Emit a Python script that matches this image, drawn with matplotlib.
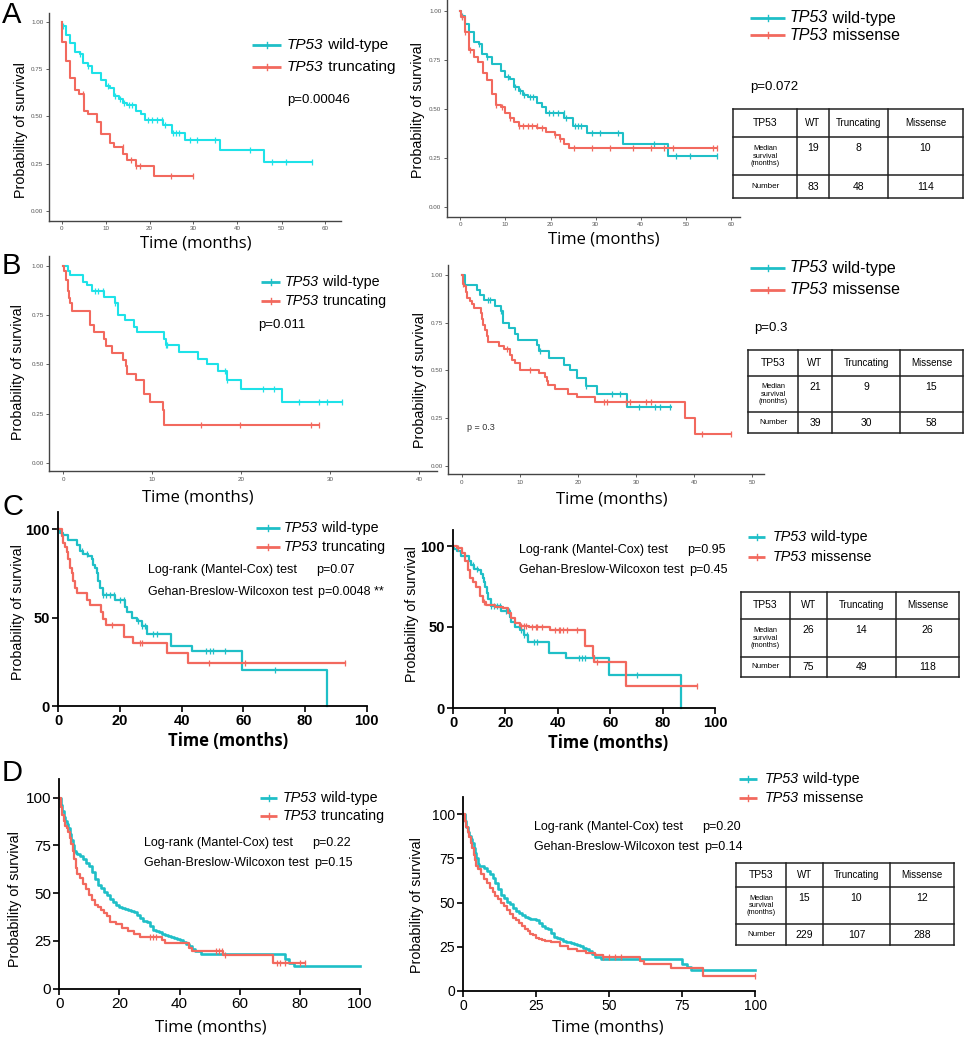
import numpy as np
import matplotlib
matplotlib.use("Agg")
import matplotlib.pyplot as plt

plt.rcParams['font.family'] = ['Liberation Sans', 'DejaVu Sans']

# ---------------- DATA ----------------
# Panel A (survival as fraction)
wtA_t = [0, 0.2, 1.1, 2, 3, 4.2, 4.9, 6, 7, 9, 10, 11, 12, 13, 14, 15, 17, 18, 19, 23, 25, 28, 36, 46, 57]
wtA_s = [1.0, 0.975, 0.93, 0.89, 0.84, 0.83, 0.78, 0.765, 0.73, 0.69, 0.66, 0.65, 0.61, 0.59, 0.57, 0.56,
         0.53, 0.51, 0.48, 0.455, 0.41, 0.375, 0.32, 0.26, 0.26]
wtA_cens = [0.3, 4.2, 6, 10.6, 12.1, 13.3, 14.2, 15.4, 16.1, 19.7, 20.6, 21.6, 22.9, 23.5, 25.4, 26,
            26.8, 29.2, 30.9, 35, 42.9, 47.9, 51, 57]
truncA_t = [0, 0.05, 1, 2, 3, 4, 5, 6, 8, 9, 11, 12, 14, 15, 17, 21, 30]
truncA_s = [1.0, 0.895, 0.79, 0.70, 0.64, 0.62, 0.53, 0.51, 0.47, 0.405, 0.36, 0.34, 0.30, 0.27, 0.24, 0.185, 0.185]
truncA_cens = [4.8, 13.9, 15.9, 17, 17.8, 24.8, 30]
missA_t = [0, 0.05, 1, 2, 3, 4, 5, 6, 7, 8, 9, 10, 11, 12, 13, 17, 19, 21, 22, 23, 24, 57]
missA_s = [1.0, 0.97, 0.89, 0.80, 0.765, 0.74, 0.68, 0.645, 0.575, 0.52, 0.51, 0.48, 0.45, 0.43, 0.41,
           0.40, 0.38, 0.365, 0.345, 0.32, 0.30, 0.30]
missA_cens = [0.3, 1, 2.1, 8, 9.2, 11, 13, 14, 14.9, 15.8, 16.9, 18, 21, 22.1, 25.1, 29.1, 33.2, 38.2,
              42.2, 45.2, 47.1, 56.1, 57]

# Panel B
wtB1_t = [0, 0.56, 0.75, 2.2, 2.7, 3.2, 4.6, 5.8, 6.1, 6.9, 7.9, 8.3, 11.3, 11.5, 13, 15.2, 16.2, 17.4,
          18.4, 20, 24.6, 31.3]
wtB1_s = [1.0, 0.975, 0.953, 0.92, 0.90, 0.87, 0.84, 0.81, 0.75, 0.725, 0.69, 0.665, 0.63, 0.60, 0.565,
          0.53, 0.50, 0.465, 0.42, 0.375, 0.31, 0.31]
wtB1_cens = [3.6, 3.9, 4.5, 5.8, 11.5, 11.7, 18.2, 18.4, 22.5, 23.7, 26.5, 28.8, 29.7, 31.3]
truncB_t = [0, 0.05, 0.25, 0.5, 0.64, 0.8, 0.97, 3.0, 3.4, 4.6, 4.8, 5.5, 6.7, 7.0, 7.2, 8.2, 9.1, 9.8,
            11.2, 11.3, 28.8]
truncB_s = [1.0, 0.975, 0.93, 0.87, 0.835, 0.81, 0.77, 0.70, 0.665, 0.63, 0.595, 0.56, 0.525, 0.49, 0.45,
            0.42, 0.35, 0.31, 0.27, 0.195, 0.195]
truncB_cens = [15.5, 19.9, 27.9, 28.8]
wtB2_t = [0, 0.6, 2.5, 3.1, 3.85, 5.7, 6.7, 7.1, 8.1, 9.1, 9.7, 13.0, 13.2, 15.0, 17.5, 18.7, 19.9, 21.3,
          23.2, 28.4, 36.0]
wtB2_s = [1.0, 0.95, 0.92, 0.895, 0.87, 0.84, 0.81, 0.75, 0.72, 0.69, 0.66, 0.635, 0.60, 0.565, 0.53,
          0.50, 0.46, 0.42, 0.375, 0.31, 0.31]
wtB2_cens = [4.4, 4.8, 6.8, 13.4, 21.4, 25.8, 27.2, 30.5, 33.3, 34.1, 35.9]
missB_t = [0, 0.1, 0.35, 0.7, 0.8, 1.4, 1.7, 2.0, 3.2, 3.4, 3.7, 4.0, 4.25, 4.5, 6.3, 7.3, 8.3, 8.7, 9.1,
           10.0, 13.2, 14.3, 14.6, 14.9, 16.0, 18.3, 19.8, 23.0, 38.4, 40.2, 46.3]
missB_s = [1.0, 0.955, 0.94, 0.91, 0.88, 0.865, 0.85, 0.825, 0.80, 0.77, 0.74, 0.71, 0.68, 0.65, 0.63,
           0.61, 0.58, 0.555, 0.537, 0.50, 0.485, 0.465, 0.445, 0.425, 0.40, 0.375, 0.36, 0.335, 0.25,
           0.165, 0.165]
missB_cens = [0.1, 7.7, 11.8, 24.4, 25, 28.2, 29, 31.8, 32.5, 41.3, 46.3]

# Panel C (percent)
wtC_t = [0, 0.5, 1.6, 3.2, 6.0, 7.0, 8.1, 9.7, 10.8, 11.4, 11.9, 12.4, 13.0, 13.5, 14.6, 18.4, 21.6,
         22.2, 23.8, 25.4, 27.0, 28.6, 36.5, 43.2, 59.7, 87.0]
wtC_s = [100, 98, 97, 94, 91, 88, 86, 85, 83, 80, 78, 75, 71, 67, 63, 60, 56, 53, 50, 48, 45, 41, 34,
         31, 20.4, 0]
wtC_cens = [7.6, 9.2, 14.6, 15.5, 16.8, 17.9, 20.1, 21.2, 25.9, 27, 28.1, 30.8, 31.9, 48, 49.2, 50.3,
            54, 70.3]
truncC_t = [0, 1.1, 1.6, 2.2, 2.7, 3.2, 3.8, 4.3, 4.9, 5.4, 6.0, 9.2, 10.3, 14.0, 14.6, 15.5, 21.3,
            24.1, 35.1, 42.2, 93.0]
truncC_s = [100, 96, 92, 90, 87, 83, 78, 75, 71, 67, 64, 60, 57, 53, 49, 46, 39, 35.5, 30, 24.5, 24.5]
truncC_cens = [17.3, 26.5, 27.0, 49.0, 60.5, 93.0]
missC_t = [0, 1.4, 3.3, 4.6, 5.9, 6.5, 7.8, 8.9, 10.2, 11.5, 12.7, 15.9, 19.1, 21.0, 22.3, 23.6, 25.5,
           29.0, 36.9, 50.3, 53.5, 54.0, 66.2, 93.0]
missC_s = [100, 98.5, 95.5, 91, 85, 80, 78, 75, 69, 65.6, 63.6, 62.5, 61.5, 58.4, 55.3, 52.3, 50.5, 50,
           48, 38, 32, 28.6, 13.8, 13.8]
missC_cens = [2, 12, 26, 27, 28, 30, 31.5, 32, 34, 39, 40.5, 41, 42, 43.5, 47.5, 55, 93]

# Panel D (percent)
wtD_t = [0, 0.5, 1, 1.5, 2, 2.5, 3, 3.5, 4, 4.5, 5, 5.5, 6, 7, 8, 9, 10, 11, 12, 13, 14, 15, 16, 17, 18,
         19, 20, 21, 22, 23, 24, 25, 26, 27, 28, 29, 30, 31, 32, 33, 34, 35, 36, 37, 38, 39, 40, 41, 42,
         43, 44, 45, 47, 75, 76.5, 78, 100]
wtD_s = [100, 96, 93, 90, 88, 86, 84, 81, 78, 75, 72, 71, 70.5, 69.5, 68, 66, 64, 61, 57.5, 54.5, 52.5,
         50.5, 49, 47, 45.5, 44, 43, 42, 41.5, 41, 40.5, 40, 38.5, 37, 35.5, 35, 33, 30.5, 30, 29.5, 28.5,
         28, 27.5, 27, 26.5, 26, 25.5, 24.5, 23.5, 22.5, 21, 19.5, 18, 15.5, 13.5, 12, 12]
truncD_t = [0, 0.5, 1, 1.5, 2, 2.5, 3, 3.5, 4, 4.5, 5, 5.5, 6, 7, 8, 9, 10, 11, 12, 13, 14, 15, 16, 17,
            19, 21, 23, 25, 27, 34, 35, 43, 44, 54.5, 71, 81.7]
truncD_s = [100, 95, 91, 88, 85, 84, 82, 79, 76, 72, 68, 63, 60, 58, 55, 52, 49, 46.5, 44, 43, 41, 39.5,
            38, 35, 34, 32, 30, 28.5, 27, 25.5, 24, 21.5, 19.5, 17.5, 13.5, 13.5]
truncD_cens = [30, 31, 32, 52, 53, 54, 55, 72.5, 73.5, 75, 80, 81.7]
missD_t = [0, 0.5, 1, 1.5, 2, 2.5, 3, 3.5, 4, 4.5, 5, 6, 7, 8, 9, 10, 11, 12, 13, 14, 15, 16, 17, 18,
           19, 20, 21, 22, 23, 24, 25, 26, 27, 28, 30, 33, 36, 39, 42, 45, 48, 60.5, 62, 71, 82, 100]
missD_s = [100, 96, 93, 90, 87, 84, 81, 77, 74, 71, 69, 66, 63.5, 61, 58.5, 56, 54, 52, 50, 48, 46, 43.5,
           41.5, 40, 38.5, 37, 35, 34, 32.5, 31.5, 30, 29.5, 29, 28.5, 27.5, 25.5, 24, 22.6, 21.5, 20.6,
           19, 17, 15.5, 13, 8.7, 8.7]
missD_cens = [48, 50, 52, 54, 100]

# Tables
table_header = ["TP53", "WT", "Truncating", "Missense"]
medianA = ["19", "8", "10"]
numberA = ["83", "48", "114"]
medianB = ["21", "9", "15"]
numberB = ["39", "30", "58"]
medianC = ["26", "14", "26"]
numberC = ["75", "49", "118"]
medianD = ["15", "10", "12"]
numberD = ["229", "107", "288"]

# Annotations
pA1, pA2 = "p=0.00046", "p=0.072"
pB1, pB2 = "p=0.011", "p=0.3"
testsC1 = ["p=0.07", "p=0.0048 **"]
testsC2 = ["p=0.95", "p=0.45"]
testsD1 = ["p=0.22", "p=0.15"]
testsD2 = ["p=0.20", "p=0.14"]

# ---------------- FIGURE ----------------
W, H = 966, 1050
fig = plt.figure(figsize=(W / 100, H / 100), dpi=100)
renderer = fig.canvas.get_renderer()

CY_BRIGHT = '#1EE2E8'
CY = '#1FBFC7'
RD = '#F2695E'


def make_axes(px_x0, px_x1, dx0, dx1, px_y0, px_y1, dy0, dy1, xlim, ylim):
    sx = (px_x1 - px_x0) / (dx1 - dx0)
    sy = (px_y1 - px_y0) / (dy1 - dy0)
    L = px_x0 + (xlim[0] - dx0) * sx
    R = px_x0 + (xlim[1] - dx0) * sx
    B = px_y0 + (ylim[0] - dy0) * sy
    T = px_y0 + (ylim[1] - dy0) * sy
    ax = fig.add_axes([L / W, 1 - B / H, (R - L) / W, (B - T) / H])
    ax.set_xlim(*xlim)
    ax.set_ylim(*ylim)
    ax.patch.set_alpha(0)
    for s in ['top', 'right']:
        ax.spines[s].set_visible(False)
    return ax


def km(ax, t, s, cens, color, lw=1.5, ms=5, mew=0.9):
    t = np.asarray(t, float)
    s = np.asarray(s, float)
    ax.step(t, s, where='post', color=color, lw=lw, clip_on=False)
    if cens:
        c = np.asarray(cens, float)
        idx = np.searchsorted(t, c, side='right') - 1
        ax.plot(c, s[idx], ls='none', marker='|', ms=ms, mew=mew, color=color, clip_on=False)


def style_gg(ax, xticks):
    ax.set_yticks([0, 0.25, 0.5, 0.75, 1.0])
    ax.set_yticklabels(["0.00", "0.25", "0.50", "0.75", "1.00"])
    ax.set_xticks(xticks)
    for s in ['left', 'bottom']:
        ax.spines[s].set_color('#444444')
        ax.spines[s].set_linewidth(1.0)
    ax.tick_params(length=2, width=0.6, color='#444444', labelsize=4.5, labelcolor='#555555', pad=2)


def style_prism(ax, xticks, yticks, bold, lsize):
    ax.set_xticks(xticks)
    ax.set_yticks(yticks)
    for s in ['left', 'bottom']:
        ax.spines[s].set_color('black')
        ax.spines[s].set_linewidth(1.3)
    ax.tick_params(length=4, width=1.2, labelsize=lsize, pad=2)
    if bold:
        for lab in ax.get_xticklabels() + ax.get_yticklabels():
            lab.set_fontweight('bold')


# ---- A left
axA1 = make_axes(61.5, 325.5, 0, 60, 21.7, 211, 1, 0, (-2.84, 63.5), (-0.051, 1.046))
style_gg(axA1, [0, 10, 20, 30, 40, 50, 60])
km(axA1, wtA_t, wtA_s, wtA_cens, CY_BRIGHT)
km(axA1, truncA_t, truncA_s, truncA_cens, RD)

# ---- A right
axA2 = make_axes(460.3, 731, 0, 60, 10.7, 206.7, 1, 0, (-2.95, 62), (-0.052, 1.055))
style_gg(axA2, [0, 10, 20, 30, 40, 50, 60])
km(axA2, wtA_t, wtA_s, wtA_cens, CY)
km(axA2, missA_t, missA_s, missA_cens, RD)

# ---- B left
axB1 = make_axes(63.3, 419, 0, 40, 265.7, 463.3, 1, 0, (-1.6, 42), (-0.04, 1.05))
style_gg(axB1, [0, 10, 20, 30, 40])
km(axB1, wtB1_t, wtB1_s, wtB1_cens, CY_BRIGHT)
km(axB1, truncB_t, truncB_s, truncB_cens, RD)

# ---- B right
axB2 = make_axes(462, 752, 0, 50, 275, 465.7, 1, 0, (-2.4, 52), (-0.045, 1.055))
style_gg(axB2, [0, 10, 20, 30, 40, 50])
km(axB2, wtB2_t, wtB2_s, wtB2_cens, CY)
km(axB2, missB_t, missB_s, missB_cens, RD)

# ---- C left
axC1 = make_axes(58.3, 366.7, 0, 100, 529.3, 706, 100, 0, (0, 100), (0, 110))
style_prism(axC1, [0, 20, 40, 60, 80, 100], [0, 50, 100], True, 10.5)
km(axC1, wtC_t, wtC_s, wtC_cens, CY, lw=1.6)
km(axC1, truncC_t, truncC_s, truncC_cens, RD, lw=1.6)

# ---- C right
axC2 = make_axes(453, 715, 0, 100, 546, 708, 100, 0, (0, 100), (0, 110))
style_prism(axC2, [0, 20, 40, 60, 80, 100], [0, 50, 100], True, 10.5)
km(axC2, wtC_t, wtC_s, wtC_cens, CY, lw=1.6)
km(axC2, missC_t, missC_s, missC_cens, RD, lw=1.6)

# ---- D left
axD1 = make_axes(59.3, 360, 0, 100, 797.7, 988.7, 100, 0, (0, 100), (0, 110))
style_prism(axD1, [0, 20, 40, 60, 80, 100], [0, 25, 50, 75, 100], False, 11)
km(axD1, wtD_t, wtD_s, None, CY, lw=1.9)
km(axD1, truncD_t, truncD_s, truncD_cens, RD, lw=1.6)

# ---- D right
axD2 = make_axes(463.3, 755.3, 0, 100, 814.3, 991, 100, 0, (0, 100), (0, 110))
style_prism(axD2, [0, 25, 50, 75, 100], [0, 25, 50, 75, 100], False, 10)
km(axD2, wtD_t, wtD_s, None, CY, lw=1.9)
km(axD2, missD_t, missD_s, missD_cens, RD, lw=1.6)

# ---------------- OVERLAY (labels, legends, tables) ----------------
ov = fig.add_axes([0, 0, 1, 1], zorder=10)
ov.set_xlim(0, W)
ov.set_ylim(H, 0)
ov.axis('off')
ov.patch.set_alpha(0)

TFONT = ['Open Sans', 'DejaVu Sans']


def xlabel(x, y, bold=False):
    ov.text(x, y, "Time (months)", fontsize=12, family=TFONT, ha='center', va='center',
            fontweight='bold' if bold else 'normal')


def ylabel(x, y):
    ov.text(x, y, "Probability of survival", fontsize=10.3, rotation=90, ha='center', va='center')


for (x, y, b) in [(196, 243, False), (604, 239, False), (198, 498, False), (612, 500, False),
                  (228, 741, True), (608, 743, True), (211, 1028, False), (608, 1028, False)]:
    xlabel(x, y, b)
for (x, y) in [(21, 130), (418, 110), (18, 372), (420, 380), (18, 612), (412, 614), (15, 899), (417, 905)]:
    ylabel(x, y)

for (x, y, L) in [(2, 15, "A"), (2, 266, "B"), (2, 507, "C"), (2, 773, "D")]:
    ov.text(x, y, L, fontsize=21, ha='left', va='center')


def rich(x, y, parts, fs):
    for txt, st in parts:
        t = ov.text(x, y, txt, fontsize=fs, style=st, ha='left', va='center')
        x += t.get_window_extent(renderer=renderer).width


def legend2(x0, x1, tx, y1, y2, lab2, fs, lw=2.0):
    for (y, c, lab) in [(y1, CY, " wild-type"), (y2, RD, " " + lab2)]:
        ov.plot([x0, x1], [y, y], color=c, lw=lw, solid_capstyle='butt')
        ov.plot([(x0 + x1) / 2] * 2, [y - 3, y + 3], color=c, lw=1)
        rich(tx, y, [("TP53", 'italic'), (lab, 'normal')], fs)


legend2(252, 281, 287, 45, 67, "truncating", 11)
legend2(750, 785, 790, 18, 35, "missense", 11.5)
legend2(261, 280, 285, 282, 301, "truncating", 10.3)
legend2(750, 785, 790, 268, 290, "missense", 11.5)
legend2(256, 280, 284, 528, 547, "truncating", 10.3)
legend2(748, 765, 773, 537, 557, "missense", 10.3)
legend2(260, 277, 283, 798, 816, "truncating", 10.3)
legend2(739, 757, 765, 779, 798, "missense", 10.3)

ov.text(287, 100, pA1, fontsize=9.5, ha='left', va='center')
ov.text(750, 87, pA2, fontsize=9.5, ha='left', va='center')
ov.text(258, 325, pB1, fontsize=9.5, ha='left', va='center')
ov.text(754, 328, pB2, fontsize=9.5, ha='left', va='center')
ov.text(467, 428, "p = 0.3", fontsize=6.5, ha='left', va='center', color='#333333')


def tests(x, px_, y1, y2, pv):
    ov.text(x, y1, "Log-rank (Mantel-Cox) test", fontsize=9, ha='left', va='center')
    ov.text(x, y2, "Gehan-Breslow-Wilcoxon test", fontsize=9, ha='left', va='center')
    ov.text(px_, y1, pv[0], fontsize=9, ha='left', va='center')
    ov.text(px_ + 2, y2, pv[1], fontsize=9, ha='left', va='center')


tests(148, 316, 570, 592, testsC1)
tests(519, 687, 550, 570, testsC2)
tests(144, 312, 843, 863, testsD1)
tests(534, 702, 827, 847, testsD2)


def table(cols, rows, med, num):
    for x in cols:
        ov.plot([x, x], [rows[0], rows[-1]], color='#222222', lw=1.1)
    for y in rows:
        ov.plot([cols[0], cols[-1]], [y, y], color='#222222', lw=1.1)
    cx = [(cols[i] + cols[i + 1]) / 2 for i in range(4)]
    hy = (rows[0] + rows[1]) / 2
    for i, h in enumerate(table_header):
        ov.text(cx[i], hy, h, fontsize=7.5 if i == 0 else 7, ha='center', va='center')
    my = (rows[1] + rows[2]) / 2
    ov.text(cx[0], my, "Median\nsurvival\n(months)", fontsize=5.3, ha='center', va='center',
            linespacing=1.1)
    vy = rows[1] + 0.3 * (rows[2] - rows[1])
    for i in range(3):
        ov.text(cx[i + 1], vy, med[i], fontsize=7.5, ha='center', va='center')
    ny = (rows[2] + rows[3]) / 2
    ov.text(cx[0], ny, "Number", fontsize=5.8, ha='center', va='center')
    for i in range(3):
        ov.text(cx[i + 1], ny, num[i], fontsize=7.5, ha='center', va='center')


table([733, 797, 829, 888, 963], [109, 137, 175, 198], medianA, numberA)
table([748, 798, 832, 900, 963], [350, 376, 412, 433], medianB, numberB)
table([741, 790, 827, 896, 959], [592, 619, 657, 677], medianC, numberC)
table([736, 786, 823, 890, 954], [863, 887, 924, 945], medianD, numberD)

fig.savefig("out.png", dpi=100)
